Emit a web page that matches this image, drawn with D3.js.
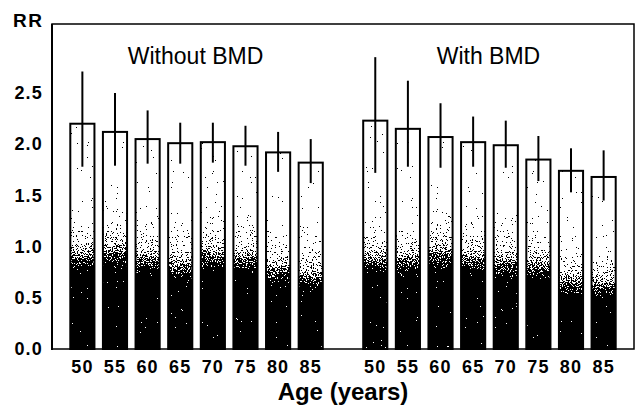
<!DOCTYPE html>
<html>
<head>
<meta charset="utf-8">
<script src="https://cdn.jsdelivr.net/npm/d3@7"></script>
<style>
  body { margin: 0; background: #fff; }
  text { font-family: "Liberation Sans", Arial, sans-serif; fill: #000; }
  .tick-label { font-weight: bold; font-size: 18px; letter-spacing: 1.2px; }
</style>
</head>
<body>
<div class="chart"></div>
<script>
const ages = [50, 55, 60, 65, 70, 75, 80, 85];
const groups = ["Without BMD", "With BMD"];
const yTicks = [0, 0.5, 1.0, 1.5, 2.0, 2.5];

// relative risk + confidence limits
const rrWithout = [2.20, 2.12, 2.05, 2.01, 2.02, 1.98, 1.92, 1.82];
const loWithout = [1.78, 1.79, 1.81, 1.81, 1.82, 1.79, 1.73, 1.62];
const hiWithout = [2.71, 2.50, 2.33, 2.21, 2.21, 2.18, 2.12, 2.05];
const rrWith = [2.23, 2.15, 2.07, 2.02, 1.99, 1.85, 1.74, 1.68];
const loWith = [1.72, 1.78, 1.77, 1.78, 1.77, 1.64, 1.53, 1.45];
const hiWith = [2.85, 2.62, 2.40, 2.27, 2.23, 2.08, 1.96, 1.94];

// level where the solid black part of each bar fades out
const shadeWithout = [0.78, 0.82, 0.74, 0.68, 0.78, 0.76, 0.64, 0.58];
const shadeWith = [0.74, 0.74, 0.80, 0.74, 0.71, 0.68, 0.52, 0.50];

const W = 637, H = 410;
const mLeft = 52, mRight = 634, mTop = 24, mBottom = 349;

let rows = [];
groups.forEach((g, gi) => {
  let rr = gi == 0 ? rrWithout : rrWith;
  let lo = gi == 0 ? loWithout : loWith;
  let hi = gi == 0 ? hiWithout : hiWith;
  let sh = gi == 0 ? shadeWithout : shadeWith;
  ages.forEach((a, i) => {
    rows.push({group: g, age: a, rr: rr[i], lo: lo[i], hi: hi[i], shade: sh[i], id: gi + "_" + i});
  });
});

let x0 = d3.scaleBand()
  .domain(groups)
  .range([mLeft, mRight])
  .paddingInner(0.109)
  .paddingOuter(0.048);

let x1 = d3.scaleBand()
  .domain(ages)
  .range([0, x0.bandwidth()])
  .paddingInner(0.26)
  .paddingOuter(0.13);

let y = d3.scaleLinear()
  .domain([0, (mBottom - mTop) / 102.4])
  .range([mBottom, mTop]);

let svg = d3.select(".chart").append("svg")
  .attr("width", W)
  .attr("height", H);

let defs = svg.append("defs");

// stipple: gradient + noise, then hard threshold
let filter = defs.append("filter")
  .attr("id", "dither")
  .attr("filterUnits", "userSpaceOnUse")
  .attr("x", 0).attr("y", 0).attr("width", W).attr("height", H)
  .attr("color-interpolation-filters", "sRGB");
filter.append("feTurbulence")
  .attr("type", "fractalNoise")
  .attr("baseFrequency", 0.8)
  .attr("numOctaves", 2)
  .attr("seed", 7)
  .attr("result", "noise");
filter.append("feColorMatrix")
  .attr("in", "noise")
  .attr("type", "matrix")
  .attr("values", "1 0 0 0 0  1 0 0 0 0  1 0 0 0 0  0 0 0 0 1")
  .attr("result", "grey");
filter.append("feComposite")
  .attr("in", "SourceGraphic")
  .attr("in2", "grey")
  .attr("operator", "arithmetic")
  .attr("k1", 0).attr("k2", 1).attr("k3", 1.8).attr("k4", -0.9)
  .attr("result", "mix");
let ct = filter.append("feComponentTransfer").attr("in", "mix").attr("result", "bw");
["feFuncR", "feFuncG", "feFuncB"].forEach(f => ct.append(f).attr("type", "discrete").attr("tableValues", "0 1"));
ct.append("feFuncA").attr("type", "identity");
filter.append("feComposite")
  .attr("in", "bw")
  .attr("in2", "SourceAlpha")
  .attr("operator", "in");

rows.forEach(d => {
  let grad = defs.append("linearGradient")
    .attr("id", "g" + d.id)
    .attr("gradientUnits", "userSpaceOnUse")
    .attr("x1", 0).attr("x2", 0)
    .attr("y1", y(d.shade - 0.05)).attr("y2", y(d.shade + 0.6));
  grad.append("stop").attr("offset", 0).attr("stop-color", "#000");
  grad.append("stop").attr("offset", 0.15).attr("stop-color", "#444");
  grad.append("stop").attr("offset", 0.45).attr("stop-color", "#bbb");
  grad.append("stop").attr("offset", 1).attr("stop-color", "#fff");
});

let bx = d => x0(d.group) + x1(d.age);

// bar fills
svg.append("g")
  .attr("filter", "url(#dither)")
  .selectAll("rect")
  .data(rows)
  .enter().append("rect")
  .attr("x", bx)
  .attr("y", d => y(d.rr))
  .attr("width", x1.bandwidth())
  .attr("height", d => y(0) - y(d.rr))
  .attr("fill", d => "url(#g" + d.id + ")");

// bar outlines
svg.append("g")
  .selectAll("rect")
  .data(rows)
  .enter().append("rect")
  .attr("x", bx)
  .attr("y", d => y(d.rr))
  .attr("width", x1.bandwidth())
  .attr("height", d => y(0) - y(d.rr))
  .attr("fill", "none")
  .attr("stroke", "#000")
  .attr("stroke-width", 2);

// error bars
svg.append("g")
  .selectAll("line")
  .data(rows)
  .enter().append("line")
  .attr("x1", d => bx(d) + x1.bandwidth() / 2)
  .attr("x2", d => bx(d) + x1.bandwidth() / 2)
  .attr("y1", d => y(d.lo))
  .attr("y2", d => y(d.hi))
  .attr("stroke", "#000")
  .attr("stroke-width", 2);

// frame
svg.append("rect")
  .attr("x", mLeft)
  .attr("y", mTop)
  .attr("width", mRight - mLeft)
  .attr("height", mBottom - mTop)
  .attr("fill", "none")
  .attr("stroke", "#000")
  .attr("stroke-width", 1.5);
svg.append("line")
  .attr("x1", mLeft).attr("x2", mLeft)
  .attr("y1", mTop).attr("y2", mBottom + 1)
  .attr("stroke", "#000")
  .attr("stroke-width", 2);

// y axis, no tick marks
let yAxis = d3.axisLeft(y)
  .tickValues(yTicks)
  .tickFormat(d3.format(".1f"))
  .tickSize(0)
  .tickPadding(9);
let ya = svg.append("g")
  .attr("transform", "translate(" + mLeft + ",0)")
  .call(yAxis)
  .attr("font-size", null)
  .attr("font-family", null);
ya.select(".domain").remove();
ya.selectAll("text").attr("class", "tick-label");

// x axes, one per group
groups.forEach(g => {
  let xa = svg.append("g")
    .attr("transform", "translate(" + x0(g) + "," + mBottom + ")")
    .call(d3.axisBottom(x1).tickSize(0).tickPadding(10))
    .attr("font-size", null)
    .attr("font-family", null);
  xa.select(".domain").remove();
  xa.selectAll("text").attr("class", "tick-label").attr("dy", "0.8em");
});

svg.append("text")
  .attr("x", 13)
  .attr("y", 27)
  .style("font-weight", "bold")
  .style("font-size", "19px")
  .style("letter-spacing", "1.5px")
  .text("RR");

svg.append("text")
  .attr("x", x0(groups[0]) + x0.bandwidth() / 2 - 1)
  .attr("y", 64)
  .attr("text-anchor", "middle")
  .style("font-size", "23px")
  .text(groups[0]);
svg.append("text")
  .attr("x", x0(groups[1]) + x0.bandwidth() / 2 - 1)
  .attr("y", 64)
  .attr("text-anchor", "middle")
  .style("font-size", "23px")
  .text(groups[1]);

svg.append("text")
  .attr("x", 343)
  .attr("y", 400)
  .attr("text-anchor", "middle")
  .style("font-weight", "bold")
  .style("font-size", "24px")
  .text("Age (years)");
</script>
</body>
</html>
